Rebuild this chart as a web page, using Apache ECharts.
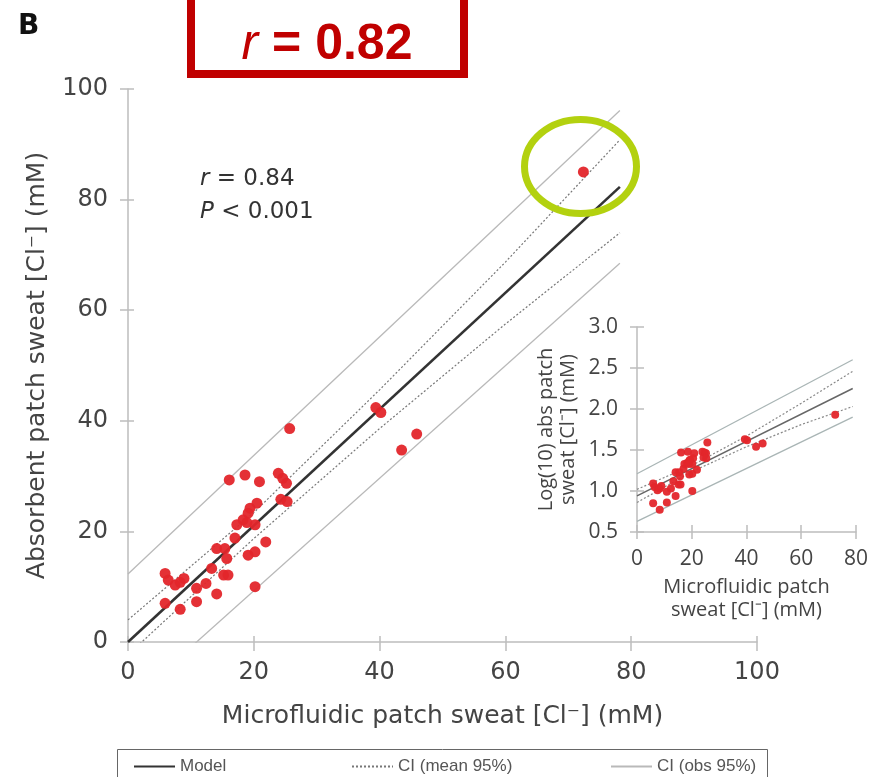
<!DOCTYPE html>
<html>
<head>
<meta charset="utf-8">
<script src="https://cdn.jsdelivr.net/npm/echarts@6/dist/echarts.min.js"></script>
<style>
  html, body { margin: 0; padding: 0; background: #fff; }
  #chart { width: 871px; height: 777px; }
</style>
</head>
<body>
<div id="chart"></div>
<script>
// microfluidic patch sweat [Cl-] (mM), one entry per subject
const microX = [5.9, 6.4, 7.5, 8.3, 8.9, 5.9, 8.3, 10.9, 10.9, 12.4, 13.3, 14.1, 15.2, 15.9,
  14.1, 15.4, 15.7, 17.0, 17.3, 18.3, 19.1, 19.4, 20.5, 20.2, 19.1, 20.2, 21.9, 20.2,
  16.1, 18.6, 20.9, 23.9, 24.6, 25.2, 24.3, 25.3, 25.7, 39.4, 40.2, 43.5, 45.9, 72.4, 18.9];
// absorbent patch sweat [Cl-] (mM)
const absorbY = [12.4, 11.2, 10.3, 10.8, 11.5, 7.0, 5.9, 7.3, 9.7, 10.6, 13.3, 8.7, 12.1, 12.1,
  16.9, 16.9, 15.1, 18.8, 21.2, 22.1, 23.3, 24.2, 25.1, 21.2, 15.7, 16.3, 18.1, 10.0,
  29.3, 30.2, 29.0, 30.5, 29.6, 28.7, 25.8, 25.4, 38.6, 42.4, 41.5, 34.7, 37.6, 85.0, 21.6];
// inset: log10 of absorbent patch values, as plotted
const logAbsY = [1.09, 1.05, 1.01, 1.03, 1.06, 0.85, 0.77, 0.86, 0.99, 1.03, 1.12, 0.94, 1.08, 1.08,
  1.23, 1.23, 1.18, 1.27, 1.33, 1.34, 1.37, 1.38, 1.40, 1.33, 1.20, 1.21, 1.26, 1.00,
  1.47, 1.48, 1.46, 1.48, 1.47, 1.46, 1.41, 1.40, 1.59, 1.63, 1.62, 1.54, 1.58, 1.93, 1.33];

// fitted lines, [x, y]
const modelLine = [[0, 0], [78.2, 82.3]];
const meanUpper = [[0, 4.0], [20, 23.4], [40, 45.6], [60, 68.7], [78.2, 90.8]];
const meanLower = [[0, -2.3], [20, 18.7], [40, 38.6], [60, 57.5], [78.2, 74.0]];
const obsUpper = [[0, 12.3], [78.2, 96.1]];
const obsLower = [[0, -11.1], [78.2, 68.5]];

const insetModel = [[0, 0.94], [78.8, 2.25]];
const insetMeanUp = [[0, 1.02], [20, 1.31], [40, 1.67], [60, 2.07], [78.8, 2.46]];
const insetMeanLow = [[0, 0.86], [20, 1.235], [40, 1.54], [60, 1.81], [78.8, 2.03]];
const insetObsUp = [[0, 1.21], [78.8, 2.60]];
const insetObsLow = [[0, 0.63], [78.8, 1.90]];

const mainTicks = [0, 20, 40, 60, 80, 100];
const insetXTicks = [0, 20, 40, 60, 80];
const insetYTicks = [0.5, 1.0, 1.5, 2.0, 2.5, 3.0];

const RED = '#e3262b';
const AXIS = '#bdbdbd';
const TXT = '#444';
const SANS = 'DejaVu Sans, sans-serif';
const ARIAL = 'Liberation Sans, Arial, sans-serif';
const INSET_FONT = 'Open Sans, sans-serif';

const chart = echarts.init(document.getElementById('chart'), null, { renderer: 'canvas' });

// an axis pair per dimension: one with ticks outside (and labels), one with ticks inside,
// so the ticks cross the axis line like in the original
function xPair(grid, min, max, interval, name, nameGap, font, size, nameSize, tickOut, tickIn) {
  const base = { gridIndex: grid, type: 'value', position: 'bottom', min, max, interval, splitLine: { show: false } };
  return [
    Object.assign({}, base, {
      name, nameLocation: 'middle', nameGap,
      nameTextStyle: { fontFamily: font, fontSize: nameSize, color: TXT, lineHeight: nameSize + 3 },
      axisLine: { lineStyle: { color: AXIS, width: 1.5 } },
      axisTick: { length: tickOut, lineStyle: { color: AXIS, width: 1.5 } },
      axisLabel: { fontFamily: font, fontSize: size, color: TXT, margin: tickOut + 10 }
    }),
    Object.assign({}, base, {
      axisLine: { show: false },
      axisTick: { inside: true, length: tickIn, lineStyle: { color: AXIS, width: 1.5 } },
      axisLabel: { show: false }
    })
  ];
}
function yPair(grid, min, max, interval, name, nameGap, font, size, nameSize, tickOut, tickIn, fmt) {
  const base = { gridIndex: grid, type: 'value', position: 'left', min, max, interval, splitLine: { show: false } };
  return [
    Object.assign({}, base, {
      name, nameLocation: 'middle', nameGap,
      nameTextStyle: { fontFamily: font, fontSize: nameSize, color: TXT, lineHeight: nameSize + 2 },
      axisLine: { lineStyle: { color: AXIS, width: 1.5 } },
      axisTick: { length: tickOut, lineStyle: { color: AXIS, width: 1.5 } },
      axisLabel: { fontFamily: font, fontSize: size, color: TXT, margin: tickOut + 12, formatter: fmt }
    }),
    Object.assign({}, base, {
      axisLine: { show: false },
      axisTick: { inside: true, length: tickIn, lineStyle: { color: AXIS, width: 1.5 } },
      axisLabel: { show: false }
    })
  ];
}

function line(name, data, x, y, color, width, type) {
  return {
    name, type: 'line', data, xAxisIndex: x, yAxisIndex: y,
    symbol: 'none', silent: true, clip: true, z: 2,
    lineStyle: { color, width, type },
    itemStyle: { color }
  };
}

const mainX = xPair(0, mainTicks[0], mainTicks[mainTicks.length - 1], 20,
  'Microfluidic patch sweat [Cl\u207B] (mM)', 60, SANS, 24, 25, 9, 6);
const mainY = yPair(0, mainTicks[0], mainTicks[mainTicks.length - 1], 20,
  'Absorbent patch sweat [Cl\u207B] (mM)', 75, SANS, 24, 25, 8, 6);
// inset axes live on grid 1
const inX = xPair(1, insetXTicks[0], insetXTicks[insetXTicks.length - 1], 20,
  'Microfluidic patch\nsweat [Cl\u207B] (mM)', 44, INSET_FONT, 21, 20, 7, 7);
const inY = yPair(1, insetYTicks[0], insetYTicks[insetYTicks.length - 1], 0.5,
  'Log(10) abs patch\nsweat [Cl\u207B] (mM)', 58, INSET_FONT, 21, 20, 7, 7, (v) => v.toFixed(1));

const legendText = { fontFamily: ARIAL, fontSize: 17, color: '#555' };
function legendAt(name, left) {
  return {
    data: [name], left, top: 753, itemWidth: 41, itemHeight: 12,
    selectedMode: false, textStyle: legendText,
    itemStyle: { opacity: 0 }
  };
}

const option = {
  animation: false,
  backgroundColor: '#fff',
  grid: [
    { left: 128, top: 89, width: 629, height: 553 },
    { left: 637, top: 327, width: 221, height: 205 }
  ],
  xAxis: mainX.concat(inX),
  yAxis: mainY.concat(inY),
  legend: [
    legendAt('Model', 128),
    legendAt('CI (mean 95%)', 346),
    legendAt('CI (obs 95%)', 605)
  ],
  series: [
    line('CI (obs 95%)', obsUpper, 0, 0, '#b9b9b9', 1.3, 'solid'),
    line('CI (obs 95%)', obsLower, 0, 0, '#b9b9b9', 1.3, 'solid'),
    line('CI (mean 95%)', meanUpper, 0, 0, '#777', 1.2, [2, 2]),
    line('CI (mean 95%)', meanLower, 0, 0, '#777', 1.2, [2, 2]),
    line('Model', modelLine, 0, 0, '#333', 2.6, 'solid'),
    {
      name: 'Data', type: 'scatter', xAxisIndex: 0, yAxisIndex: 0, z: 3,
      data: microX.map((x, i) => [x, absorbY[i]]),
      symbolSize: 11, itemStyle: { color: RED, opacity: 0.95 }
    },
    line('inset obs', insetObsUp, 2, 2, '#a9b5b5', 1.3, 'solid'),
    line('inset obs', insetObsLow, 2, 2, '#a9b5b5', 1.3, 'solid'),
    line('inset mean', insetMeanUp, 2, 2, '#888', 1.2, [2, 2]),
    line('inset mean', insetMeanLow, 2, 2, '#888', 1.2, [2, 2]),
    line('inset model', insetModel, 2, 2, '#666', 1.5, 'solid'),
    {
      name: 'inset data', type: 'scatter', xAxisIndex: 2, yAxisIndex: 2, z: 3,
      data: microX.map((x, i) => [x, logAbsY[i]]),
      symbolSize: 8, itemStyle: { color: RED, opacity: 0.95 }
    }
  ],
  graphic: [
    {
      type: 'text', left: 18, top: 13,
      style: { text: 'B', font: 'bold 28px ' + SANS, fill: '#111' }
    },
    {
      type: 'rect', z: 10,
      shape: { x: 191, y: -10, width: 273, height: 84 },
      style: { fill: 'none', stroke: '#c00000', lineWidth: 8 }
    },
    {
      type: 'text', z: 10, x: 327, y: 45,
      style: {
        text: '{i|r }{b|= 0.82}', align: 'center', verticalAlign: 'middle',
        rich: {
          i: { fontFamily: ARIAL, fontStyle: 'italic', fontSize: 50, fill: '#c00000' },
          b: { fontFamily: ARIAL, fontWeight: 'bold', fontSize: 50, fill: '#c00000' }
        }
      }
    },
    {
      type: 'text', z: 10, x: 200, y: 179,
      style: {
        text: '{i|r} = 0.84', verticalAlign: 'middle', fontFamily: SANS, fontSize: 23, fill: '#333',
        rich: { i: { fontFamily: SANS, fontStyle: 'italic', fontSize: 23, fill: '#333' } }
      }
    },
    {
      type: 'text', z: 10, x: 200, y: 212,
      style: {
        text: '{i|P} < 0.001', verticalAlign: 'middle', fontFamily: SANS, fontSize: 23, fill: '#333',
        rich: { i: { fontFamily: SANS, fontStyle: 'italic', fontSize: 23, fill: '#333' } }
      }
    },
    {
      type: 'ellipse', z: 10,
      shape: { cx: 580.5, cy: 166.5, rx: 56, ry: 47 },
      style: { fill: 'none', stroke: '#b3d10f', lineWidth: 7 }
    },
    {
      type: 'rect', z: 1,
      shape: { x: 117.5, y: 749.5, width: 650, height: 30 },
      style: { fill: 'none', stroke: '#666', lineWidth: 1 }
    }
  ]
};

chart.setOption(option);
</script>
</body>
</html>
